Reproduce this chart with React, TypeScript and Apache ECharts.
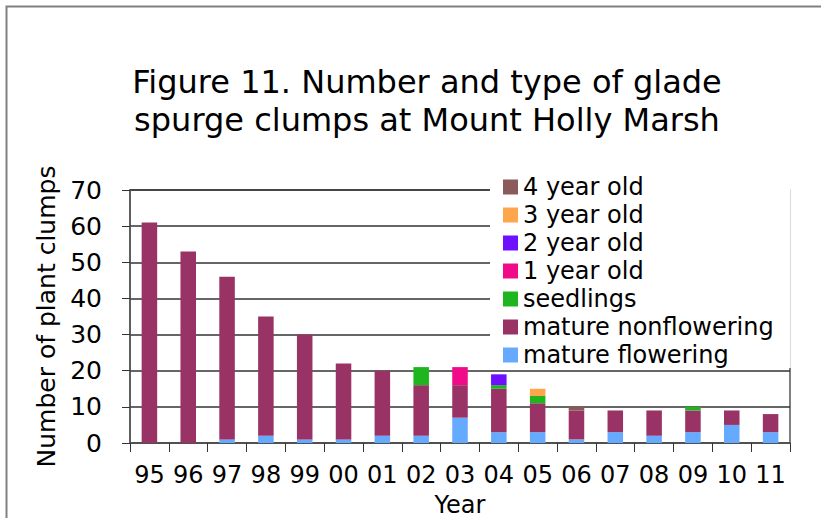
import React, { useEffect, useRef } from "react";
import * as echarts from "echarts";

const years = ["95", "96", "97", "98", "99", "00", "01", "02", "03", "04", "05", "06", "07", "08", "09", "10", "11"];
const matureFlowering = [0, 0, 1, 2, 1, 1, 2, 2, 7, 3, 3, 1, 3, 2, 3, 5, 3];
const matureNonflowering = [61, 53, 45, 33, 29, 21, 18, 14, 9, 12, 8, 8, 6, 7, 6, 4, 5];
const seedlings = [0, 0, 0, 0, 0, 0, 0, 5, 0, 1, 2, 0, 0, 0, 1, 0, 0];
const oneYearOld = [0, 0, 0, 0, 0, 0, 0, 0, 5, 0, 0, 0, 0, 0, 0, 0, 0];
const twoYearOld = [0, 0, 0, 0, 0, 0, 0, 0, 0, 3, 0, 0, 0, 0, 0, 0, 0];
const threeYearOld = [0, 0, 0, 0, 0, 0, 0, 0, 0, 0, 2, 0, 0, 0, 0, 0, 0];
const fourYearOld = [0, 0, 0, 0, 0, 0, 0, 0, 0, 0, 0, 1, 0, 0, 0, 0, 0];
const yTicks = [0, 10, 20, 30, 40, 50, 60, 70];

const seriesDefs = [
  { name: "mature flowering", data: matureFlowering, color: "#66AAFF" },
  { name: "mature nonflowering", data: matureNonflowering, color: "#993366" },
  { name: "seedlings", data: seedlings, color: "#1FB51F" },
  { name: "1 year old", data: oneYearOld, color: "#F00C88" },
  { name: "2 year old", data: twoYearOld, color: "#6E10FF" },
  { name: "3 year old", data: threeYearOld, color: "#FFA64D" },
  { name: "4 year old", data: fourYearOld, color: "#8B5A5A" },
];

const FONT = "DejaVu Sans";

export default function App() {
  const ref = useRef<HTMLDivElement>(null);
  useEffect(() => {
    if (!ref.current) return;
    const chart = echarts.init(ref.current, null, { renderer: "svg" });
    chart.setOption({
      animation: false,
      backgroundColor: "#ffffff",
      title: {
        text: "Figure 11. Number and type of glade\nspurge clumps at Mount Holly Marsh",
        left: 422,
        top: 58,
        textAlign: "center",
        textStyle: { fontFamily: FONT, fontSize: 32, fontWeight: "normal", color: "#000", lineHeight: 38 },
      },
      graphic: [
        {
          type: "rect",
          shape: { x: 6.5, y: 6.5, width: 1000, height: 1000 },
          style: { fill: "none", stroke: "#808080", lineWidth: 2 },
          silent: true,
        },
      ],
      legend: {
        orient: "vertical",
        left: 490,
        top: 170,
        backgroundColor: "#ffffff",
        padding: [5, 17, 1, 13],
        itemWidth: 15,
        itemHeight: 15,
        itemGap: 4,
        icon: "rect",
        data: seriesDefs.map((s) => s.name).reverse(),
        textStyle: { fontFamily: FONT, fontSize: 24, color: "#000", lineHeight: 24 },
      },
      grid: {
        left: 130,
        right: 31,
        top: 190,
        bottom: 71,
        show: true,
        borderColor: "#555",
        borderWidth: 1.5,
      },
      xAxis: {
        type: "category",
        data: years,
        name: "Year",
        nameLocation: "middle",
        nameGap: 50,
        nameTextStyle: { fontFamily: FONT, fontSize: 24, color: "#000", lineHeight: 24 },
        axisLine: { lineStyle: { color: "#555", width: 1.5 } },
        axisTick: { show: true, length: 9, alignWithLabel: false, lineStyle: { color: "#333" } },
        axisLabel: { fontFamily: FONT, fontSize: 24, lineHeight: 24, color: "#000", margin: 20, interval: 0 },
      },
      yAxis: {
        type: "value",
        min: 0,
        max: 70,
        interval: 10,
        name: "Number of plant clumps",
        nameLocation: "middle",
        nameGap: 70,
        nameRotate: 90,
        nameTextStyle: { fontFamily: FONT, fontSize: 25, color: "#000" },
        axisLine: { show: true, lineStyle: { color: "#555", width: 1.5 } },
        axisTick: { show: true, length: 8, lineStyle: { color: "#333" } },
        axisLabel: {
          fontFamily: FONT,
          fontSize: 25,
          color: "#000",
          margin: 28,
          formatter: (v: number) => (yTicks.includes(v) ? String(v) : ""),
        },
        splitLine: { show: true, lineStyle: { color: "#333", width: 1.5 } },
      },
      series: seriesDefs.map((s) => ({
        name: s.name,
        type: "bar",
        stack: "total",
        barWidth: "40%",
        data: s.data,
        itemStyle: { color: s.color },
      })),
    });
    return () => chart.dispose();
  }, []);
  return <div ref={ref} style={{ position: "absolute", left: 0, top: 0, width: 821, height: 518 }} />;
}
